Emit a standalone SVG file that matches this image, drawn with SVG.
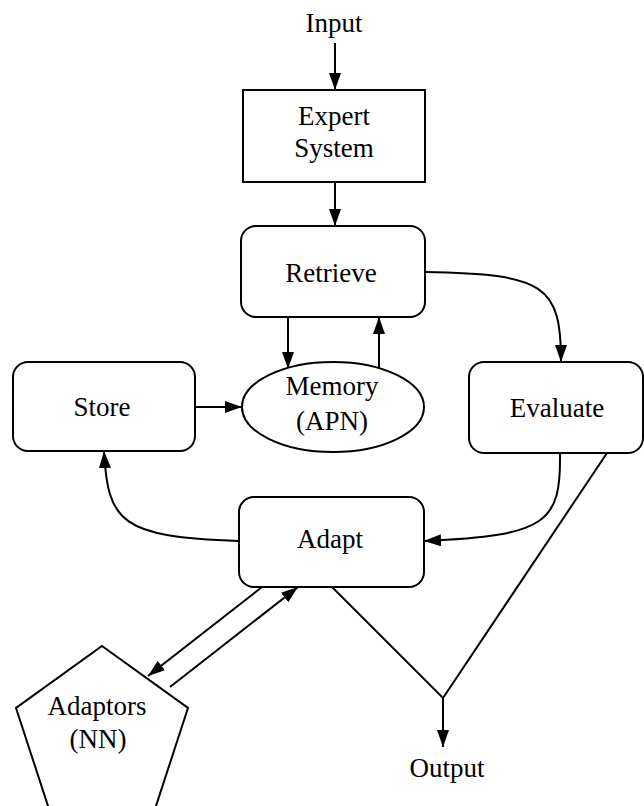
<svg xmlns="http://www.w3.org/2000/svg" width="644" height="806" viewBox="0 0 644 806">
  <style>
    .box { fill: #ffffff; stroke: #000000; stroke-width: 2; }
    .edge { fill: none; stroke: #000000; stroke-width: 2; }
    .lbl { font-family: "Liberation Serif", "Times New Roman", serif; font-size: 27px; fill: #000000; text-anchor: middle; }
  </style>
  <defs>
    <marker id="arrow" markerUnits="userSpaceOnUse" markerWidth="18" markerHeight="12" refX="17" refY="6" orient="auto">
      <path d="M0,0 L17,6 L0,12 Z" fill="#000000"/>
    </marker>
  </defs>

  <rect width="644" height="806" fill="#ffffff"/>

  <!-- connectors -->
  <g id="connectors">
    <path class="edge" d="M335,43 L335,90" marker-end="url(#arrow)"/>
    <path class="edge" d="M335,182 L335,226" marker-end="url(#arrow)"/>
    <path class="edge" d="M288,317 L288,369" marker-end="url(#arrow)"/>
    <path class="edge" d="M379,368 L379,317" marker-end="url(#arrow)"/>
    <path class="edge" d="M195,407 L242,407" marker-end="url(#arrow)"/>
    <path class="edge" d="M425,272 C545,274 561,285 561,362" marker-end="url(#arrow)"/>
    <path class="edge" d="M560,453 C561,522 548,536 424,541" marker-end="url(#arrow)"/>
    <path class="edge" d="M239,541 C120,537 108,522 104,451" marker-end="url(#arrow)"/>
    <path class="edge" d="M262,587 L148,676" marker-end="url(#arrow)"/>
    <path class="edge" d="M170,687 L298,587" marker-end="url(#arrow)"/>
    <path class="edge" d="M332,587 L443,698 L607,453"/>
    <path class="edge" d="M443,698 L443,747" marker-end="url(#arrow)"/>
  </g>

  <g id="input">
    <text class="lbl" x="334" y="32">Input</text>
  </g>

  <g id="expert-system">
    <rect class="box" x="243" y="90" width="182" height="92"/>
    <text class="lbl" x="334" y="125">Expert</text>
    <text class="lbl" x="334" y="157">System</text>
  </g>

  <g id="retrieve">
    <rect class="box" x="241" y="226" width="184" height="91" rx="15" ry="15"/>
    <text class="lbl" x="331" y="282">Retrieve</text>
  </g>

  <g id="store">
    <rect class="box" x="13" y="362" width="182" height="89" rx="15" ry="15"/>
    <text class="lbl" x="102" y="416">Store</text>
  </g>

  <g id="memory">
    <ellipse class="box" cx="333" cy="407" rx="91" ry="45"/>
    <text class="lbl" x="332" y="395">Memory</text>
    <text class="lbl" x="332" y="430">(APN)</text>
  </g>

  <g id="evaluate">
    <rect class="box" x="469" y="362" width="174" height="91" rx="15" ry="15"/>
    <text class="lbl" x="557" y="417">Evaluate</text>
  </g>

  <g id="adapt">
    <rect class="box" x="239" y="497" width="185" height="90" rx="15" ry="15"/>
    <text class="lbl" x="330" y="548">Adapt</text>
  </g>

  <g id="adaptors">
    <polygon class="box" points="102,646 188,708 155,809 49,809 16,708"/>
    <text class="lbl" x="97" y="715">Adaptors</text>
    <text class="lbl" x="98" y="748">(NN)</text>
  </g>

  <g id="output">
    <text class="lbl" x="447" y="777">Output</text>
  </g>
</svg>
